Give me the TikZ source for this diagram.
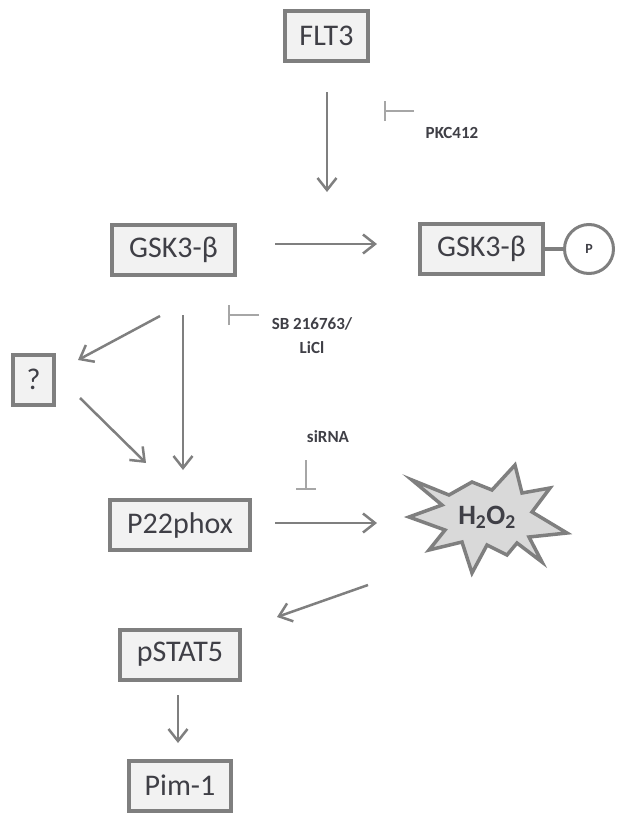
\documentclass[tikz,border=0pt]{standalone}
\usepackage{fontspec}
\setmainfont{Carlito}
\usetikzlibrary{calc,arrows.meta}
\definecolor{boxgray}{HTML}{7F7F7F}
\definecolor{boxfill}{HTML}{F2F2F2}
\definecolor{txtgray}{HTML}{3F3F46}
\definecolor{inhgray}{HTML}{A6A6A6}
\definecolor{burstfill}{HTML}{D9D9D9}
\tikzset{
  prot/.style={rectangle,draw=boxgray,line width=4pt,fill=boxfill,text=txtgray,
               minimum height=50pt,inner sep=0,font=\fontsize{30}{36}\selectfont},
  phos/.style={circle,draw=boxgray,line width=3pt,fill=white,text=txtgray,
               minimum size=49pt,inner sep=0,font=\fontsize{14}{16}\selectfont\bfseries},
  link/.style={draw=boxgray,line width=4pt},
  % the H2O2 burst is a plain polygon round a coordinate
  burst/.style={draw=boxgray,line width=3.5pt,fill=burstfill,line join=miter},
  lab/.style={text=txtgray,font=\fontsize{17}{24}\selectfont\bfseries,align=center},
  arr/.style={draw=boxgray,line width=2.5pt,-{Straight Barb[length=12pt,width=19pt]}},
  inhib/.style={draw=inhgray,line width=2pt,-{Bar[width=20pt]}},
}
\begin{document}
\begin{tikzpicture}[x=1pt,y=-1pt]
  \useasboundingbox (0,0) rectangle (616,814);
  % proteins
  \node[prot,minimum width=83pt]  (FLT3)  at (326.5,36)  {FLT3};
  \node[prot,minimum width=123pt] (GSKa)  at (173.5,250) {GSK3-β};
  \node[prot,minimum width=123pt] (GSKp)  at (481.5,249) {GSK3-β};
  \node[phos] (pho) at (589,249) {P};
  \draw[link] (GSKp.east) -- (pho.west);
  \node[prot,minimum width=41pt]  (Q)     at (33.5,379.5) {?};
  \node[prot,minimum width=140pt] (P22)   at (180,525)   {P22phox};
  \node[prot,minimum width=120pt] (STAT5) at (180,654.5) {pSTAT5};
  \node[prot,minimum width=102pt] (Pim1)  at (180,785.5) {Pim-1};
  % burst
  \coordinate (burstc) at (487,515);
  \begin{scope}[shift={(burstc)}]
    \draw[burst] (-75,-35) -- (-38,-20) -- (-15,-33) -- (5,-25) -- (28,-50) -- (35,-22)
      -- (63,-27) -- (45,-3) -- (80,18) -- (42,22) -- (55,47) -- (30,28) -- (20,40)
      -- (0,30) -- (-15,58) -- (-25,27) -- (-58,35) -- (-42,15) -- (-78,2) -- (-45,-10) -- cycle;
  \end{scope}
  \node[text=txtgray,font=\fontsize{28}{32}\selectfont\bfseries] (H2O2) at ($(burstc)+(0,2)$)
    {H\textsubscript{2}O\textsubscript{2}};
  % inhibitor labels
  \node[lab] (pkc)   at (452,133) {PKC412};
  \node[lab] (sb)    at (312,336) {SB 216763/\\LiCl};
  \node[lab] (sirna) at (328,437) {siRNA};
  % activations
  \draw[arr] ([shift={(0.5,56)}]FLT3.center) -- ([shift={(153.5,-58)}]GSKa.center);
  \draw[arr] ([shift={(101.5,-6)}]GSKa.center) -- ([shift={(-104.5,-5)}]GSKp.center);
  \draw[arr] ([shift={(-13.5,66)}]GSKa.center) -- ([shift={(44.5,-19.5)}]Q.center);
  \draw[arr] ([shift={(46.5,18.5)}]Q.center) -- ([shift={(-34,-62)}]P22.center);
  \draw[arr] ([shift={(9.5,65)}]GSKa.center) -- ([shift={(3,-55)}]P22.center);
  \draw[arr] ([shift={(95,-2)}]P22.center) -- ([shift={(-110,8)}]burstc);
  \draw[arr] ([shift={(-119,70)}]burstc) -- ([shift={(97,-37.5)}]STAT5.center);
  \draw[arr] ([shift={(-2,40.5)}]STAT5.center) -- ([shift={(-2,-42.5)}]Pim1.center);
  % inhibitions
  \draw[inhib] ([shift={(-38,-22)}]pkc.center) -- ++(-30,0);
  \draw[inhib] ([shift={(-53,-21)}]sb.center) -- ++(-31,0);
  \draw[inhib] ([shift={(-22,23)}]sirna.center) -- ++(0,30);
\end{tikzpicture}
\end{document}
